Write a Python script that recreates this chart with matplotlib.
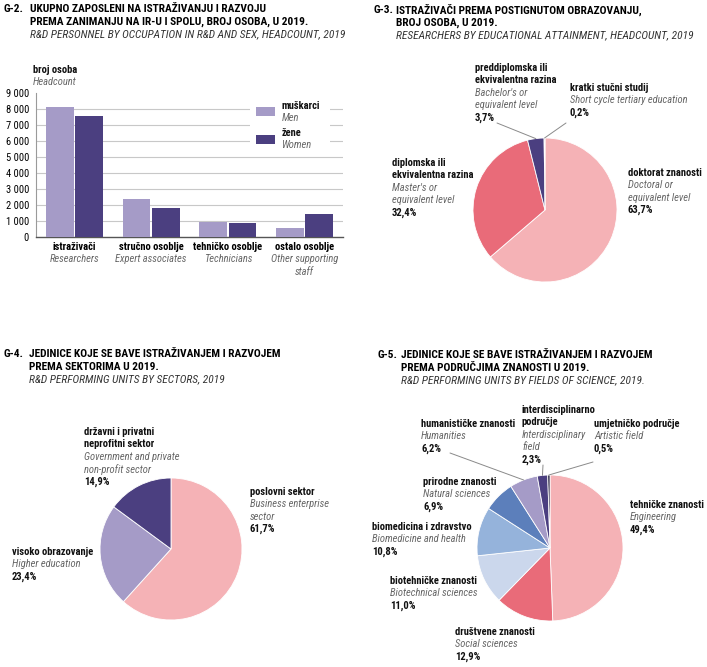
import numpy as np
import matplotlib
matplotlib.use("Agg")
import matplotlib.pyplot as plt
from matplotlib import font_manager
from matplotlib.patches import Rectangle
import matplotlib.transforms as mtransforms

# fonts: narrow sans if present
names = set(f.name for f in font_manager.fontManager.ttflist)
fam = [n for n in ["Liberation Sans Narrow", "Roboto Condensed", "Liberation Sans"] if n in names]
plt.rcParams['font.family'] = fam + ['DejaVu Sans']

W, H = 707, 667
def fx(x): return x / W
def fy(y): return 1 - y / H

GRAY = "#666666"
LIGHT_PURPLE = "#A59BC7"
DARK_PURPLE = "#4B3F80"
PINK = "#F5B2B6"
RED = "#E96B79"
PALE_BLUE = "#CBD7EC"
LIGHT_BLUE = "#95B3DB"
BLUE = "#5C7FBB"
NAVY = "#1E1B3A"

# G-2 data
occupations = ["istraživači", "stručno osoblje", "tehničko osoblje", "ostalo osoblje"]
occupations_en = ["Researchers", "Expert associates", "Technicians", "Other supporting\nstaff"]
men = [8100, 2400, 950, 550]
women = [7550, 1800, 870, 1430]

# G-3 data
edu_labels = ["doktorat znanosti", "diplomska ili\nekvivalentna razina",
              "preddiplomska ili\nekvivalentna razina", "kratki stučni studij"]
edu_en = ["Doctoral or\nequivalent level", "Master's or\nequivalent level",
          "Bachelor's or\nequivalent level", "Short cycle tertiary education"]
edu_share = [63.7, 32.4, 3.7, 0.2]

# G-4 data
sector_labels = ["poslovni sektor", "visoko obrazovanje", "državni i privatni\nneprofitni sektor"]
sector_en = ["Business enterprise\nsector", "Higher education", "Government and private\nnon-profit sector"]
sector_share = [61.7, 23.4, 14.9]

# G-5 data
field_labels = ["tehničke znanosti", "društvene znanosti", "biotehničke znanosti",
                "biomedicina i zdravstvo", "prirodne znanosti", "humanističke znanosti",
                "interdisciplinarno\npodručje", "umjetničko područje"]
field_en = ["Engineering", "Social sciences", "Biotechnical sciences",
            "Biomedicine and health", "Natural sciences", "Humanities",
            "Interdisciplinary\nfield", "Artistic field"]
field_share = [49.4, 12.9, 11.0, 10.8, 6.9, 6.2, 2.3, 0.5]

fig = plt.figure(figsize=(W / 100, H / 100), dpi=100)

LS = 12.4  # line step in px
FS = 7.6
TS = 8.2

def label(x, y, bold, ital=None, pct=None, ha='left'):
    lines = []
    for t in bold.split("\n"):
        lines.append((t, 'b'))
    if ital:
        for t in ital.split("\n"):
            lines.append((t, 'i'))
    if pct:
        lines.append((pct, 'b'))
    for i, (t, s) in enumerate(lines):
        if s == 'b':
            fig.text(fx(x), fy(y + i * LS), t, fontsize=FS, fontweight='bold',
                     color='#111111', va='center', ha=ha, zorder=4)
        else:
            fig.text(fx(x), fy(y + i * LS), t, fontsize=FS, fontstyle='italic',
                     color=GRAY, va='center', ha=ha, zorder=4)

def title(x0, x1, y, code, lines, en):
    fig.text(fx(x0), fy(y), code, fontsize=TS, fontweight='bold', va='center')
    for i, t in enumerate(lines):
        fig.text(fx(x1), fy(y + i * 12.6), t, fontsize=TS, fontweight='bold', va='center')
    fig.text(fx(x1), fy(y + len(lines) * 12.6), en, fontsize=TS, fontstyle='italic',
             color='#333333', va='center')

def pct(v):
    return f"{v:.1f}".replace(".", ",") + "%"

# ---------- G-2 ----------
title(3, 30, 9.5, "G-2.", ["UKUPNO ZAPOSLENI NA ISTRAŽIVANJU I RAZVOJU",
                           "PREMA ZANIMANJU NA IR-U I SPOLU, BROJ OSOBA, U 2019."],
      "R&D PERSONNEL BY OCCUPATION IN R&D AND SEX, HEADCOUNT, 2019")

ax = fig.add_axes([fx(36), fy(237), (343 - 36) / W, (237 - 93) / H])
x = np.arange(len(occupations))
bw = 0.36
ax.bar(x - 0.19, men, bw, color=LIGHT_PURPLE, zorder=3)
ax.bar(x + 0.19, women, bw, color=DARK_PURPLE, zorder=3)
ax.set_xlim(-0.5, 3.5)
ax.set_ylim(0, 9000)
ax.set_yticks(np.arange(0, 9001, 1000))
ax.set_yticklabels([f"{v:,}".replace(",", " ") for v in range(0, 9001, 1000)], fontsize=FS)
ax.tick_params(axis='y', length=0, pad=5)
ax.set_xticks([])
for v in range(1000, 9000, 1000):
    ax.axhline(v, color='#C8C8C8', lw=0.8, zorder=1)
for s in ['top', 'right']:
    ax.spines[s].set_visible(False)
ax.spines['left'].set_color('#9A9A9A')
ax.spines['bottom'].set_color('#555555')
ax.spines['left'].set_linewidth(0.8)
ax.spines['bottom'].set_linewidth(1.0)

trans = mtransforms.blended_transform_factory(ax.transData, fig.transFigure)
for i in range(len(occupations)):
    ax.text(x[i], fy(247), occupations[i], transform=trans, ha='center', va='center',
            fontsize=FS, fontweight='bold')
    for j, t in enumerate(occupations_en[i].split("\n")):
        ax.text(x[i], fy(259.5 + j * LS), t, transform=trans, ha='center', va='center',
                fontsize=FS, fontstyle='italic', color=GRAY)

label(33, 70, "broj osoba", "Headcount")

# legend drawn by hand
fig.patches.append(Rectangle((fx(250), fy(150)), 80 / W, 50 / H, transform=fig.transFigure,
                             facecolor='white', edgecolor='none', zorder=1))
fig.patches.append(Rectangle((fx(256), fy(116)), 19 / W, 9 / H, transform=fig.transFigure,
                             facecolor=LIGHT_PURPLE, edgecolor='none', zorder=2))
fig.patches.append(Rectangle((fx(256), fy(144)), 19 / W, 9 / H, transform=fig.transFigure,
                             facecolor=DARK_PURPLE, edgecolor='none', zorder=2))
label(282, 106, "muškarci", "Men")
label(282, 133, "žene", "Women")

# ---------- pies ----------
def pie_axes(cx, cy, r):
    a = fig.add_axes([fx(cx - r), fy(cy + r), 2 * r / W, 2 * r / H])
    return a

def edge_point(shares, k):
    c = np.cumsum([0] + list(shares))
    mid = (c[k] + c[k + 1]) / 2 / c[-1]
    ang = np.deg2rad(90 - 360 * mid)
    return np.cos(ang), np.sin(ang)

def leader(a, shares, k, x, y):
    a.annotate("", xy=edge_point(shares, k), xycoords='data',
               xytext=(fx(x), fy(y)), textcoords='figure fraction',
               arrowprops=dict(arrowstyle='-', color='#8A8A8A', lw=0.7,
                               shrinkA=0, shrinkB=0), annotation_clip=False)

wp = dict(edgecolor='white', linewidth=0.6)

# G-3
title(374, 396, 10, "G-3.", ["ISTRAŽIVAČI PREMA POSTIGNUTOM OBRAZOVANJU,", "BROJ OSOBA, U 2019."],
      "RESEARCHERS BY EDUCATIONAL ATTAINMENT, HEADCOUNT, 2019")
a3 = pie_axes(545, 210, 72)
a3.pie(edu_share, colors=[PINK, RED, DARK_PURPLE, NAVY], startangle=90,
       counterclock=False, radius=1, wedgeprops=wp)
a3.set_xlim(-1, 1); a3.set_ylim(-1, 1); a3.axis('off')
label(628, 173, edu_labels[0], edu_en[0], pct(edu_share[0]))
label(392, 163, edu_labels[1], edu_en[1], pct(edu_share[1]))
label(475, 68, edu_labels[2], edu_en[2], pct(edu_share[2]))
label(570, 88, edu_labels[3], edu_en[3], pct(edu_share[3]))
leader(a3, edu_share, 2, 497, 123)
leader(a3, edu_share, 3, 566, 123)

# G-4
title(3, 29, 354, "G-4.", ["JEDINICE KOJE SE BAVE ISTRAŽIVANJEM I RAZVOJEM", "PREMA SEKTORIMA U 2019."],
      "R&D PERFORMING UNITS BY SECTORS, 2019")
a4 = pie_axes(171, 549, 71)
a4.pie(sector_share, colors=[PINK, LIGHT_PURPLE, DARK_PURPLE], startangle=90,
       counterclock=False, radius=1, wedgeprops=wp)
a4.set_xlim(-1, 1); a4.set_ylim(-1, 1); a4.axis('off')
label(250, 492, sector_labels[0], sector_en[0], pct(sector_share[0]))
label(12, 552, sector_labels[1], sector_en[1], pct(sector_share[1]))
label(84, 432, sector_labels[2], sector_en[2], pct(sector_share[2]))

# G-5
title(378, 401, 355, "G-5.", ["JEDINICE KOJE SE BAVE ISTRAŽIVANJEM I RAZVOJEM",
                              "PREMA PODRUČJIMA ZNANOSTI U 2019."],
      "R&D PERFORMING UNITS BY FIELDS OF SCIENCE, 2019.")
a5 = pie_axes(550, 548, 73)
a5.pie(field_share, colors=[PINK, RED, PALE_BLUE, LIGHT_BLUE, BLUE, LIGHT_PURPLE, DARK_PURPLE, NAVY],
       startangle=90, counterclock=False, radius=1, wedgeprops=wp)
a5.set_xlim(-1, 1); a5.set_ylim(-1, 1); a5.axis('off')
pos5 = [(630, 505), (455, 632), (390, 581), (372, 527), (423, 482), (421, 424), (522, 410), (594, 424)]
for k in range(len(field_share)):
    label(pos5[k][0], pos5[k][1], field_labels[k], field_en[k], pct(field_share[k]))
leader(a5, field_share, 5, 450, 453)
leader(a5, field_share, 6, 543, 465)
leader(a5, field_share, 7, 593, 462)

fig.savefig("out.png", dpi=100)
